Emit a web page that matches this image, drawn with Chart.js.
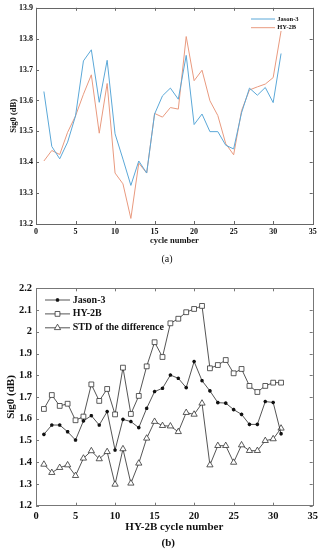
<!DOCTYPE html>
<html>
<head>
<meta charset="utf-8">
<script src="https://cdn.jsdelivr.net/npm/chart.js@4.4.0/dist/chart.umd.min.js"></script>
<style>
  html,body{margin:0;padding:0;background:#fff;}
  .wrap{position:absolute;left:0;width:325px;height:275px;}
  canvas{display:block;}
</style>
</head>
<body>
<div class="wrap" style="top:0"><canvas id="c1" width="325" height="275"></canvas></div>
<div class="wrap" style="top:275px"><canvas id="c2" width="325" height="275"></canvas></div>
<script>
// ---------- data ----------
const cycles = [1,2,3,4,5,6,7,8,9,10,11,12,13,14,15,16,17,18,19,20,21,22,23,24,25,26,27,28,29,30,31];

// (a) Sig0 per cycle
const jason3A = [13.629,13.451,13.411,13.465,13.550,13.728,13.764,13.594,13.730,13.492,13.410,13.325,13.404,13.365,13.556,13.615,13.640,13.604,13.746,13.522,13.556,13.499,13.499,13.455,13.443,13.560,13.640,13.617,13.642,13.593,13.752];
const hy2bA   = [13.404,13.438,13.425,13.497,13.550,13.620,13.683,13.494,13.655,13.365,13.330,13.218,13.397,13.365,13.558,13.546,13.577,13.572,13.807,13.664,13.698,13.599,13.551,13.460,13.424,13.567,13.634,13.644,13.653,13.674,13.825];

// (b) Sig0 per HY-2B cycle
const jason3B = [1.528,1.571,1.571,1.540,1.502,1.590,1.614,1.571,1.633,1.456,1.597,1.587,1.559,1.648,1.725,1.740,1.801,1.786,1.743,1.863,1.775,1.728,1.674,1.672,1.642,1.620,1.574,1.574,1.679,1.675,1.531];
const hy2bB   = [1.645,1.709,1.659,1.669,1.593,1.610,1.758,1.682,1.737,1.620,1.835,1.622,1.705,1.841,1.952,1.884,2.039,2.060,2.090,2.105,2.119,1.832,1.847,1.870,1.809,1.829,1.751,1.723,1.751,1.766,1.766];
const stdDiff = [1.390,1.352,1.375,1.387,1.338,1.418,1.452,1.415,1.448,1.298,1.461,1.303,1.395,1.510,1.587,1.568,1.566,1.540,1.628,1.620,1.671,1.387,1.476,1.476,1.399,1.479,1.453,1.453,1.499,1.507,1.556];

const xTickValues = [0,5,10,15,20,25,30,35];
const xTickLabels = ['0','5','10','15','20','25','30','35'];
const yTickValuesA = [13.2,13.3,13.4,13.5,13.6,13.7,13.8,13.9];
const yTickLabelsA = ['13.2','13.3','13.4','13.5','13.6','13.7','13.8','13.9'];
const yTickValuesB = [1.2,1.3,1.4,1.5,1.6,1.7,1.8,1.9,2.0,2.1,2.2];
const yTickLabelsB = ['1.2','1.3','1.4','1.5','1.6','1.7','1.8','1.9','2','2.1','2.2'];

const seriesNamesA = ['Jason-3','HY-2B'];
const seriesNamesB = ['Jason-3','HY-2B','STD of the difference'];

// ---------- helpers ----------
const SERIF = '"Liberation Serif","Times New Roman",serif';
const pts = (ys) => cycles.map((c,i) => ({x:c, y:ys[i]}));
const BLUE = '#5ba8d8', ORANGE = '#e99a7f', DARK = '#2a2a2a';

function drawMarker(ctx, style, x, y, r) {
  ctx.beginPath();
  if (style === 'rect') {
    const s = r * Math.SQRT1_2;
    ctx.rect(x - s, y - s, 2*s, 2*s);
    ctx.fill(); ctx.stroke();
  } else if (style === 'triangle') {
    ctx.moveTo(x, y - r);
    ctx.lineTo(x + r*Math.sin(Math.PI/3), y + r*0.5);
    ctx.lineTo(x - r*Math.sin(Math.PI/3), y + r*0.5);
    ctx.closePath();
    ctx.fill(); ctx.stroke();
  } else if (style === 'star') {
    for (let k = 0; k < 4; k++) {
      const a = k*Math.PI/4;
      ctx.moveTo(x - r*Math.cos(a), y - r*Math.sin(a));
      ctx.lineTo(x + r*Math.cos(a), y + r*Math.sin(a));
    }
    ctx.stroke();
  }
}

const framePlugin = {
  id: 'frame',
  afterDatasetsDraw(chart, args, o) {
    const {ctx, chartArea:{left,right,top,bottom}, scales:{x,y}} = chart;
    ctx.save();
    ctx.strokeStyle = o.color; ctx.lineWidth = 1;
    ctx.strokeRect(Math.round(left)+0.5, Math.round(top)+0.5, Math.round(right-left), Math.round(bottom-top));
    ctx.beginPath();
    x.ticks.forEach((t,i) => {
      const px = Math.round(x.getPixelForTick(i)) + 0.5;
      ctx.moveTo(px, bottom); ctx.lineTo(px, bottom - o.len);
      ctx.moveTo(px, top); ctx.lineTo(px, top + o.len);
    });
    y.ticks.forEach((t,i) => {
      const py = Math.round(y.getPixelForTick(i)) + 0.5;
      ctx.moveTo(left, py); ctx.lineTo(left + o.len, py);
      ctx.moveTo(right, py); ctx.lineTo(right - o.len, py);
    });
    ctx.stroke();
    ctx.restore();
  }
};

const legendPlugin = {
  id: 'customLegend',
  afterDraw(chart, args, o) {
    const ctx = chart.ctx;
    ctx.save();
    chart.data.datasets.forEach((ds, i) => {
      const yy = o.y0 + i*o.dy;
      ctx.strokeStyle = ds.borderColor; ctx.lineWidth = ds.borderWidth;
      ctx.beginPath(); ctx.moveTo(o.x0, yy); ctx.lineTo(o.x1, yy); ctx.stroke();
      if (ds.pointRadius > 0) {
        ctx.fillStyle = ds.pointBackgroundColor; ctx.strokeStyle = ds.pointBorderColor;
        ctx.lineWidth = ds.pointBorderWidth;
        drawMarker(ctx, ds.pointStyle, (o.x0+o.x1)/2, yy, ds.pointRadius);
      }
      ctx.fillStyle = '#111';
      ctx.font = 'bold ' + o.size + 'px ' + SERIF;
      ctx.textBaseline = 'middle'; ctx.textAlign = 'left';
      ctx.fillText(ds.label, o.tx, yy);
    });
    if (o.caption) {
      ctx.font = (o.caption.bold ? 'bold ' : '') + o.caption.size + 'px ' + SERIF;
      ctx.textAlign = 'center'; ctx.textBaseline = 'middle';
      ctx.fillText(o.caption.text, o.caption.x, o.caption.y);
    }
    ctx.restore();
  }
};

function axes(opt) {
  return {
    x: {
      type: 'linear', min: 0, max: 35,
      afterBuildTicks: s => { s.ticks = xTickValues.map(v => ({value: v})); },
      afterFit: s => { s.height = opt.xh; },
      ticks: { autoSkip: false, maxRotation: 0, padding: opt.xpad, color: '#111',
               font: {family: SERIF, size: opt.tick, weight: 'bold'},
               callback: (v, i) => xTickLabels[i] },
      grid: { display: false, drawTicks: false },
      border: { display: false },
      title: { display: true, text: opt.xtitle, color: '#111',
               font: {family: SERIF, size: opt.title, weight: 'bold'},
               padding: {top: 0, bottom: opt.xtpb} }
    },
    y: {
      type: 'linear', min: opt.ymin, max: opt.ymax,
      afterBuildTicks: s => { s.ticks = opt.yvals.map(v => ({value: v})); },
      afterFit: s => { s.width = 36; },
      ticks: { autoSkip: false, padding: opt.ypad, color: '#111',
               font: {family: SERIF, size: opt.tick, weight: 'bold'},
               callback: (v, i) => opt.ylabels[i] },
      grid: { display: false, drawTicks: false },
      border: { display: false },
      title: { display: true, text: 'Sig0 (dB)', color: '#111',
               font: {family: SERIF, size: opt.title, weight: 'bold'},
               padding: {top: opt.ytpt, bottom: 0} }
    }
  };
}

// ---------- chart (a) ----------
new Chart(document.getElementById('c1'), {
  type: 'line',
  data: { datasets: [
    { label: seriesNamesA[0], data: pts(jason3A), borderColor: BLUE, borderWidth: 1, pointRadius: 0, tension: 0 },
    { label: seriesNamesA[1], data: pts(hy2bA), borderColor: ORANGE, borderWidth: 1, pointRadius: 0, tension: 0 }
  ]},
  options: {
    responsive: false, animation: false, events: [],
    layout: { padding: {left: 0, right: 12.3, top: 6.7, bottom: 0} },
    plugins: {
      legend: {display: false}, tooltip: {enabled: false},
      frame: {color: '#666', len: 3},
      customLegend: { x0: 251, x1: 275, tx: 277.3, y0: 19, dy: 8.7, size: 6.5,
                      caption: {text: '(a)', x: 167, y: 259, size: 10, bold: false} }
    },
    scales: axes({ xh: 51, xpad: 3, tick: 8, title: 8.5, xtitle: 'cycle number', xtpb: 28.9,
                   ymin: 13.2, ymax: 13.9, yvals: yTickValuesA, ylabels: yTickLabelsA, ypad: 3, ytpt: 8.9 })
  },
  plugins: [framePlugin, legendPlugin]
});

// ---------- chart (b) ----------
new Chart(document.getElementById('c2'), {
  type: 'line',
  data: { datasets: [
    { label: seriesNamesB[0], data: pts(jason3B), borderColor: DARK, borderWidth: 0.8, tension: 0,
      pointStyle: 'star', pointRadius: 1.8, pointBorderWidth: 1.1, pointBorderColor: '#111', pointBackgroundColor: '#111' },
    { label: seriesNamesB[1], data: pts(hy2bB), borderColor: DARK, borderWidth: 0.8, tension: 0,
      pointStyle: 'rect', pointRadius: 3.4, pointBorderWidth: 0.8, pointBorderColor: '#333', pointBackgroundColor: '#fff' },
    { label: seriesNamesB[2], data: pts(stdDiff), borderColor: DARK, borderWidth: 0.8, tension: 0,
      pointStyle: 'triangle', pointRadius: 3.6, pointBorderWidth: 0.8, pointBorderColor: '#333', pointBackgroundColor: '#fff' }
  ]},
  options: {
    responsive: false, animation: false, events: [],
    layout: { padding: {left: 0, right: 12.3, top: 13.3, bottom: 0} },
    plugins: {
      legend: {display: false}, tooltip: {enabled: false},
      frame: {color: '#777', len: 3},
      customLegend: { x0: 45, x1: 70, tx: 72.7, y0: 25, dy: 13.9, size: 10,
                      caption: {text: '(b)', x: 168.3, y: 268, size: 11, bold: true} }
    },
    scales: axes({ xh: 44.3, xpad: 4, tick: 10.5, title: 11, xtitle: 'HY-2B cycle number', xtpb: 15.9,
                   ymin: 1.2, ymax: 2.2, yvals: yTickValuesB, ylabels: yTickLabelsB, ypad: 4, ytpt: 4.4 })
  },
  plugins: [framePlugin, legendPlugin]
});
</script>
</body>
</html>
